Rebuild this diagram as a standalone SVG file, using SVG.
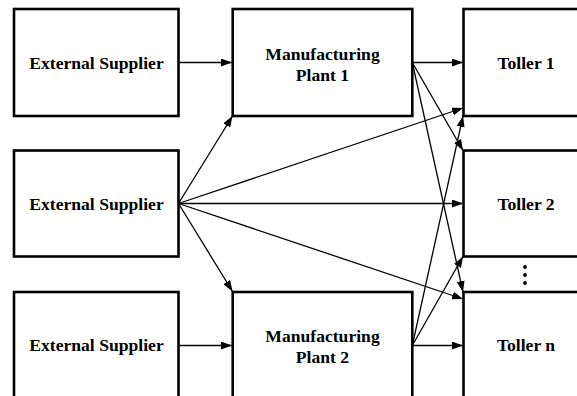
<svg xmlns="http://www.w3.org/2000/svg" width="577" height="396" viewBox="0 0 577 396">
<style>
.box{fill:#fff;stroke:#000;stroke-width:2.6}
.lbl{font-family:"Liberation Serif","Times New Roman",serif;font-weight:bold;font-size:17.6px;fill:#000;text-anchor:middle}
.c line{stroke:#000;stroke-width:1.3;marker-end:url(#ah)}
</style>
<defs>
<marker id="ah" viewBox="0 0 11 8" refX="11" refY="4" markerWidth="11" markerHeight="8" markerUnits="userSpaceOnUse" orient="auto">
<path d="M0,0 L11,4 L0,8 Z" fill="#000"/>
</marker>
</defs>
<rect width="577" height="396" fill="#fff"/>
<g id="es1"><rect class="box" x="14" y="9" width="164.5" height="107"/><text class="lbl" x="96.5" y="68.5">External Supplier</text></g>
<g id="es2"><rect class="box" x="14" y="150.5" width="164.5" height="106"/><text class="lbl" x="96.5" y="209.5">External Supplier</text></g>
<g id="es3"><rect class="box" x="14" y="292" width="164.5" height="107"/><text class="lbl" x="96.5" y="351">External Supplier</text></g>
<g id="mp1"><rect class="box" x="232.7" y="9" width="179.6" height="107"/><text class="lbl" x="322.5" y="59.5">Manufacturing</text><text class="lbl" x="322.5" y="80.5">Plant 1</text></g>
<g id="mp2"><rect class="box" x="232.7" y="292" width="179.6" height="107"/><text class="lbl" x="322.5" y="341.5">Manufacturing</text><text class="lbl" x="322.5" y="362.5">Plant 2</text></g>
<g id="t1"><rect class="box" x="463.5" y="9" width="125" height="107"/><text class="lbl" x="526" y="68.5">Toller 1</text></g>
<g id="t2"><rect class="box" x="463.5" y="150.5" width="125" height="106"/><text class="lbl" x="526" y="209.5">Toller 2</text></g>
<g id="tn"><rect class="box" x="463.5" y="292" width="125" height="107"/><text class="lbl" x="526" y="351">Toller n</text></g>
<g id="dots" fill="#000"><circle cx="525" cy="267" r="1.9"/><circle cx="525" cy="275" r="1.9"/><circle cx="525" cy="283" r="1.9"/></g>
<g class="c" id="connectors">
<line x1="178.5" y1="62.5" x2="232" y2="62.5"/>
<line x1="178.5" y1="345.5" x2="232" y2="345.5"/>
<line x1="178.5" y1="203.5" x2="232.5" y2="116"/>
<line x1="178.5" y1="203.5" x2="463" y2="108"/>
<line x1="178.5" y1="203.5" x2="463" y2="203.5"/>
<line x1="178.5" y1="203.5" x2="463" y2="299"/>
<line x1="178.5" y1="203.5" x2="232.5" y2="291.5"/>
<line x1="412.3" y1="62.5" x2="463" y2="62.5"/>
<line x1="412.3" y1="62.5" x2="463" y2="150.5"/>
<line x1="412.3" y1="62.5" x2="463" y2="292"/>
<line x1="412.3" y1="345.5" x2="463" y2="345.5"/>
<line x1="412.3" y1="345.5" x2="463" y2="256.5"/>
<line x1="412.3" y1="345.5" x2="463" y2="116"/>
</g>
</svg>
